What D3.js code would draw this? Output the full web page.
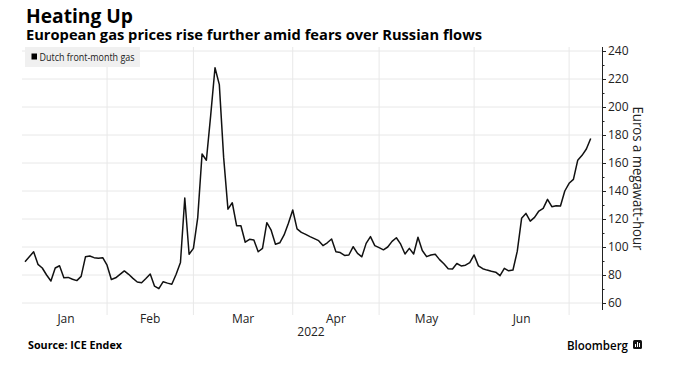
<!DOCTYPE html>
<html><head><meta charset="utf-8">
<script src="https://cdn.jsdelivr.net/npm/d3@7"></script>
<style>body{margin:0;background:#fff;} svg{display:block;}</style>
</head><body><svg id="c" width="678" height="391"></svg>
<script>
// Dutch TTF front-month gas, one value per trading day (Jan 2022 - early Jul 2022), EUR/MWh
const values = [
  89.5, 93, 96.6, 87.6, 85, 80, 75.7, 85, 86.6, 78, 78.3, 77, 76, 79, 93, 93.6, 92.4, 92, 92.4,
  87, 76.8, 78, 80.5, 82.9, 80.5, 77.6, 75, 74.5, 77.5, 80.7, 72, 70.2, 75.2, 74.2, 73.4, 80.5, 89, 135, 94.8,
  99, 121, 166.4, 162, 194, 228, 216, 164, 127, 131.6, 115.2, 115.2, 103.4, 105.5, 105, 96.6, 99, 117.4, 112, 102, 103, 108.6, 117,
  126.4, 113, 110.5, 109, 107.4, 106, 104.5, 101, 103, 105.7, 96.6, 96, 94, 94.3, 100.2, 95.5, 93, 102.6, 107.4, 101,
  99.5, 98, 100, 104, 106.6, 102, 95, 99, 95, 107, 97.5, 93.1, 94.3, 94.8, 91, 88, 84.5, 84.3, 88.2, 86.5, 87, 88.8,
  94.3, 86.5, 84.5, 83.5, 82.7, 82, 79.5, 84.8, 83, 83.6, 97, 120.5, 124, 118.5, 121.2, 125.7, 127.6, 134, 128.8, 129.5, 129.3, 140,
  145.5, 148.3, 162, 165.5, 170, 177.5
];
// index of the first trading day of each month (Jan..Jul)
const monthStarts = [0, 19, 39, 62, 82, 104, 126];
const monthLabels = ["Jan", "Feb", "Mar", "Apr", "May", "Jun"];
const yearLabel = "2022";
const yTicks = [60, 80, 100, 120, 140, 160, 180, 200, 220, 240];
const yMinorTicks = [70, 90, 110, 130, 150, 170, 190, 210, 230];
const seriesName = "Dutch front-month gas";
const titleText = "Heating Up";
const subtitleText = "European gas prices rise further amid fears over Russian flows";
const yTitle = "Euros a megawatt-hour";
const sourceText = "Source: ICE Endex";

const svg = d3.select("#c");
const FONT = "'Open Sans', 'Liberation Sans', Arial, sans-serif";
const gridColor = "#e8e8e8";

const x = d3.scaleLinear().domain([0, values.length - 1]).range([25, 590.7]);
const y = d3.scaleLinear().domain([60, 240]).range([303, 51]);
const plotLeft = 22, plotRight = 602, plotTop = 47, plotBottom = 310;

// horizontal grid
svg.append("g").selectAll("line").data(yTicks).join("line")
  .attr("x1", plotLeft).attr("x2", plotRight)
  .attr("y1", d => y(d)).attr("y2", d => y(d))
  .attr("stroke", gridColor).attr("stroke-width", 1);

// vertical grid at month boundaries
svg.append("g").selectAll("line").data(monthStarts.slice(1)).join("line")
  .attr("x1", d => x(d)).attr("x2", d => x(d))
  .attr("y1", plotTop).attr("y2", 315)
  .attr("stroke", gridColor).attr("stroke-width", 1);

// legend
const lg = svg.append("g");
lg.append("rect").attr("x", 25).attr("y", 47).attr("width", 115).attr("height", 20).attr("fill", "#f0f0f0");
lg.append("rect").attr("x", 31.5).attr("y", 53.5).attr("width", 5.5).attr("height", 6).attr("fill", "#000");
lg.append("text").attr("x", 39.5).attr("y", 61).attr("font-family", FONT).attr("font-size", 10.5)
  .attr("fill", "#222").text(seriesName).attr("textLength", 95).attr("lengthAdjust", "spacingAndGlyphs");

// line
const line = d3.line().x((d, i) => x(i)).y(d => y(d));
svg.append("path").datum(values).attr("d", line)
  .attr("fill", "none").attr("stroke", "#111").attr("stroke-width", 1.5).attr("stroke-linejoin", "round");

// y axis (right)
const yAxis = d3.axisRight(y).tickValues(yTicks).tickSize(4).tickPadding(2).tickFormat(d3.format("d"));
const ga = svg.append("g").attr("transform", `translate(${plotRight},0)`).call(yAxis);
ga.select(".domain").remove();
ga.selectAll("text").attr("font-family", FONT).attr("font-size", 12).attr("fill", "#222");
ga.selectAll("line").attr("stroke", "#222");
const gm = svg.append("g").attr("transform", `translate(${plotRight},0)`)
  .call(d3.axisRight(y).tickValues(yMinorTicks).tickSize(2.5).tickFormat(""));
gm.select(".domain").remove();
gm.selectAll("line").attr("stroke", "#222");
svg.append("line").attr("x1", plotRight + 0.5).attr("x2", plotRight + 0.5)
  .attr("y1", plotTop).attr("y2", plotBottom).attr("stroke", "#222").attr("stroke-width", 1);

// y title
svg.append("text").attr("transform", "translate(632.5,178.5) rotate(90)")
  .attr("text-anchor", "middle").attr("font-family", FONT).attr("font-size", 14).attr("fill", "#222")
  .text(yTitle).attr("textLength", 144).attr("lengthAdjust", "spacingAndGlyphs");

// month labels
const mids = monthLabels.map((m, i) => ({ label: m, pos: (monthStarts[i] + monthStarts[i + 1]) / 2 }));
svg.append("g").selectAll("text").data(mids).join("text")
  .attr("x", d => x(d.pos)).attr("y", 323).attr("text-anchor", "middle")
  .attr("font-family", FONT).attr("font-size", 12).attr("fill", "#222").text(d => d.label);
svg.append("text").attr("x", 311).attr("y", 336).attr("text-anchor", "middle")
  .attr("font-family", FONT).attr("font-size", 12).attr("fill", "#222").text(yearLabel);

// titles
svg.append("text").attr("x", 26).attr("y", 23).attr("font-family", FONT).attr("font-weight", 700)
  .attr("font-size", 19.5).attr("fill", "#000").text(titleText).attr("textLength", 107).attr("lengthAdjust", "spacingAndGlyphs");
svg.append("text").attr("x", 26).attr("y", 39.5).attr("font-family", FONT).attr("font-weight", 700)
  .attr("font-size", 14).attr("fill", "#000").text(subtitleText).attr("textLength", 456).attr("lengthAdjust", "spacingAndGlyphs");

// source + brand
svg.append("text").attr("x", 28).attr("y", 349).attr("font-family", FONT).attr("font-weight", 700)
  .attr("font-size", 10).attr("fill", "#000").text(sourceText).attr("textLength", 94).attr("lengthAdjust", "spacingAndGlyphs");
svg.append("text").attr("x", 567).attr("y", 350).attr("font-family", FONT).attr("font-weight", 600)
  .attr("font-size", 13).attr("fill", "#000").text("Bloomberg").attr("textLength", 61).attr("lengthAdjust", "spacingAndGlyphs");
const ic = svg.append("g").attr("transform", "translate(633,340)");
ic.append("rect").attr("width", 9).attr("height", 9).attr("rx", 1.5).attr("fill", "#111");
[[2, 4, 3], [4, 2, 5], [6, 3, 4]].forEach(([bx, by, bh]) =>
  ic.append("rect").attr("x", bx).attr("y", by).attr("width", 1).attr("height", bh).attr("fill", "#fff"));
</script>
</body></html>
